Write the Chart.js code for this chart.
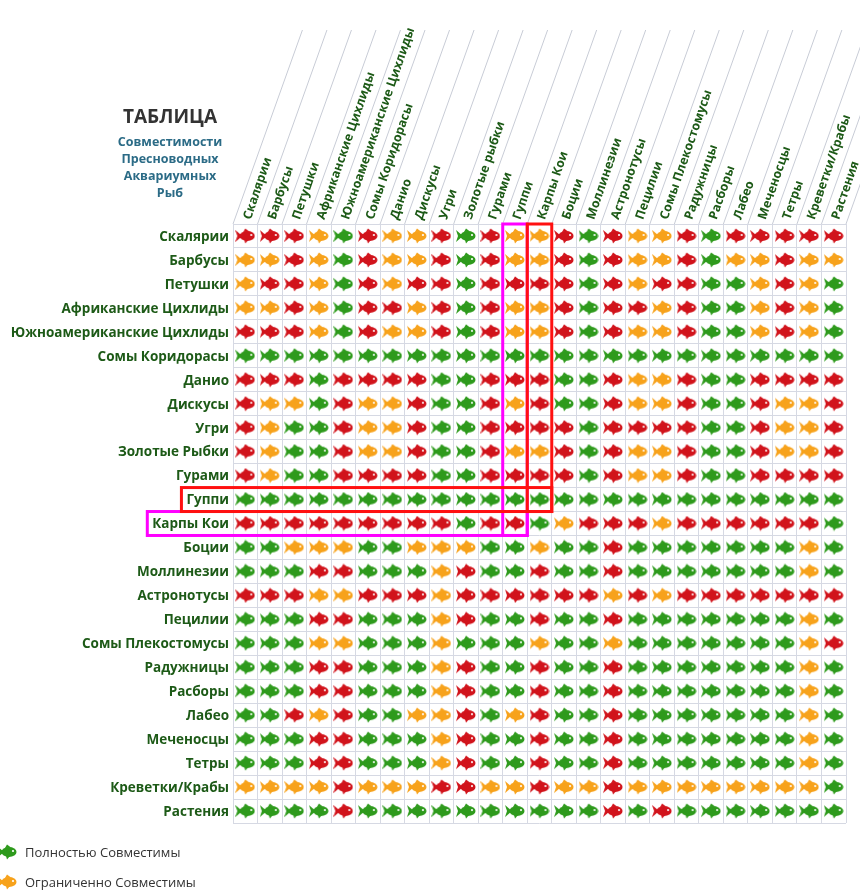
<!DOCTYPE html>
<html>
<head>
<meta charset="utf-8">
<script src="https://cdn.jsdelivr.net/npm/chart.js@4.4.1/dist/chart.umd.min.js"></script>
<style>
  html, body { margin: 0; padding: 0; background: #fff; }
  #wrap { width: 860px; height: 896px; position: relative; }
</style>
</head>
<body>
<div id="wrap"><canvas id="compatChart" width="860" height="896"></canvas></div>
<script>
// species (same order for rows and columns)
const species = ['Скалярии', 'Барбусы', 'Петушки', 'Африканские Цихлиды', 'Южноамериканские Цихлиды',
    'Сомы Коридорасы', 'Данио', 'Дискусы', 'Угри', 'Золотые Рыбки', 'Гурами', 'Гуппи', 'Карпы Кои',
    'Боции', 'Моллинезии', 'Астронотусы', 'Пецилии', 'Сомы Плекостомусы', 'Радужницы', 'Расборы',
    'Лабео', 'Меченосцы', 'Тетры', 'Креветки/Крабы', 'Растения'];
const columnLabels = ['Скалярии', 'Барбусы', 'Петушки', 'Африканские Цихлиды', 'Южноамериканские Цихлиды',
    'Сомы Коридорасы', 'Данио', 'Дискусы', 'Угри', 'Золотые рыбки', 'Гурами', 'Гуппи', 'Карпы Кои',
    'Боции', 'Моллинезии', 'Астронотусы', 'Пецилии', 'Сомы Плекостомусы', 'Радужницы', 'Расборы',
    'Лабео', 'Меченосцы', 'Тетры', 'Креветки/Крабы', 'Растения'];

// G = fully compatible, O = limited, R = incompatible
const matrix = [
    'RRROGROORGROORGROOGRRRRRR'.replace(/^(.{13})ROOGRRRRRR$/, '$1GROORGRRRRR'),
    'OOROGROORGROORGROORGOORLL',
];
const rows = [
    'RRROGROORGROO' + 'RGROORGRRRRR',
    'OOROGROORGROO' + 'RGROORGOOROO',
    'ORROGRORRGRRR' + 'RGRORRGGOROG',
    'OOROGRRORGROO' + 'RGRRORGGOROG',
    'RRROGROORGROO' + 'RGROORGGOROG',
    'GGGGGGGGGGGGG' + 'GGGGGGGGGGGG',
    'RRRGRRRRGGRRR' + 'GGROORGGRRRR',
    'ROOGROORGGROR' + 'GGROORGGROOR',
    'ROGGROORGGRRR' + 'RGRRRRGGROOR',
    'ROGGROORGGROO' + 'RGROORGGROOR',
    'ROGGRRRRGGRRR' + 'RGROORGGRRRR',
    'GGGGGGGGGGGGG' + 'GGGGGGGGGGGG',
    'RRRRRRRRRGRRG' + 'ORRRORRRRRRG',
    'GGOOOGGOOOGGO' + 'GGRGGGGGGGOG',
    'GGGRRGGGORGGR' + 'GGRGGGGGGGOG',
    'RRROORRRORRRR' + 'RRORORRRRRRR',
    'GGGRRGGGORGGR' + 'GGRGGGGGGGOG',
    'GGGOOGGGOGGGO' + 'GGOGGGGGGGOR',
    'GGGRRGGGORGGR' + 'GGRGGGGGGGOG',
    'GGGRRGGGORGGR' + 'GGRGGGGGGGOG',
    'GGROROGOORGOR'.replace('GGROROGOORGOR', 'GGRORGGOORGOR') + 'GGRGGGGGGGOG',
    'GGGRRGGGORGGR' + 'GGRGGGGGGGOG',
    'GGGRRGGGORGGR' + 'GGRGGGGGGGOG',
    'OOOOROOORROOR' + 'OOROOOOOOOOG',
    'GGGGRGGGGGGGG' + 'GGRGRGGGGGGG'
];
const legendItems = [['G', 'Полностью Совместимы'], ['O', 'Ограниченно Совместимы']];

const fishColors = { G: '#2e9a1c', O: '#f7a21b', R: '#d1131b' };

function makeFish(color) {
    const c = document.createElement('canvas');
    c.width = 20; c.height = 16;
    const g = c.getContext('2d');
    g.fillStyle = color;
    // tail
    g.beginPath();
    g.moveTo(0, 2); g.lineTo(7, 8); g.lineTo(0, 14); g.lineTo(2, 8); g.closePath(); g.fill();
    // dorsal + belly fins
    g.beginPath();
    g.moveTo(8, 4); g.lineTo(10, 0.5); g.lineTo(14, 3.5); g.closePath(); g.fill();
    g.beginPath();
    g.moveTo(9, 12); g.lineTo(10, 15.5); g.lineTo(13, 12); g.closePath(); g.fill();
    // body
    g.beginPath();
    g.ellipse(12, 8, 7.5, 5, 0, 0, Math.PI * 2); g.fill();
    // eye
    g.fillStyle = '#fff';
    g.beginPath(); g.arc(16, 7, 1.1, 0, Math.PI * 2); g.fill();
    return c;
}
const fishImages = { G: makeFish(fishColors.G), O: makeFish(fishColors.O), R: makeFish(fishColors.R) };

const points = [];
rows.forEach((row, r) => {
    row.split('').forEach((v, c) => points.push({ x: c, y: r, v: v }));
});

const FONT = '"Open Sans", "DejaVu Sans", sans-serif';
const LABEL_COLOR = '#1d5a17';

const decorPlugin = {
    id: 'decor',
    afterDraw(chart) {
        const ctx = chart.ctx;
        const xs = chart.scales.x, ys = chart.scales.y;
        const top = ys.getPixelForValue(-0.5);
        ctx.save();

        // title
        ctx.textAlign = 'center';
        ctx.textBaseline = 'middle';
        ctx.fillStyle = '#333';
        ctx.font = 'bold 19px ' + FONT;
        ctx.fillText('ТАБЛИЦА', 170, 118);
        ctx.fillStyle = '#2b6b86';
        ctx.font = 'bold 12.5px ' + FONT;
        ['Совместимости', 'Пресноводных', 'Аквариумных', 'Рыб'].forEach((t, i) => {
            ctx.fillText(t, 170, 142 + i * 17);
        });

        // slanted column separators and headers
        const ang = -71 * Math.PI / 180;
        ctx.strokeStyle = '#c8ccd6';
        ctx.lineWidth = 1;
        for (let i = 0; i <= species.length; i++) {
            const x0 = xs.getPixelForValue(i - 0.5);
            ctx.beginPath();
            ctx.moveTo(x0, top);
            ctx.lineTo(x0 + 190 / Math.tan(71 * Math.PI / 180) + 4, top - 194);
            ctx.stroke();
        }
        ctx.fillStyle = LABEL_COLOR;
        ctx.font = 'bold 12.5px ' + FONT;
        ctx.textAlign = 'left';
        columnLabels.forEach((t, i) => {
            const cx = xs.getPixelForValue(i);
            ctx.save();
            ctx.translate(cx + 2, top - 5);
            ctx.rotate(ang);
            ctx.fillText(t, 0, 0);
            ctx.restore();
        });

        // row labels
        ctx.textAlign = 'right';
        ctx.font = 'bold 13.5px ' + FONT;
        const labelLeft = {};
        species.forEach((t, i) => {
            const y = ys.getPixelForValue(i);
            ctx.fillText(t, 229, y + 1);
            labelLeft[i] = 229 - ctx.measureText(t).width - 5;
        });

        // highlight boxes
        ctx.lineWidth = 3;
        const px = v => xs.getPixelForValue(v), py = v => ys.getPixelForValue(v);
        ctx.strokeStyle = '#ff00ff';
        ctx.strokeRect(px(10.5), py(-0.5), px(11.5) - px(10.5), py(12.5) - py(-0.5));
        ctx.strokeRect(labelLeft[12], py(11.5), px(11.5) - labelLeft[12], py(12.5) - py(11.5));
        ctx.strokeStyle = '#ff1010';
        ctx.strokeRect(px(11.5), py(-0.5), px(12.5) - px(11.5), py(11.5) - py(-0.5));
        ctx.strokeRect(labelLeft[11], py(10.5), px(12.5) - labelLeft[11], py(11.5) - py(10.5));

        // legend
        ctx.textAlign = 'left';
        ctx.fillStyle = '#333';
        ctx.font = '13px ' + FONT;
        legendItems.forEach(([k, t], i) => {
            const y = 852 + i * 30;
            ctx.drawImage(fishImages[k], -3, y - 8);
            ctx.fillText(t, 25, y + 1);
        });
        ctx.restore();
    }
};

const halfTicks = axis => {
    axis.ticks = [];
    for (let i = -0.5; i <= 24.5; i += 1) axis.ticks.push({ value: i });
};

new Chart(document.getElementById('compatChart').getContext('2d'), {
    type: 'scatter',
    data: {
        datasets: [{
            data: points,
            pointStyle: ctx => fishImages[ctx.raw ? ctx.raw.v : 'G'],
            pointRadius: 8,
            pointHoverRadius: 8
        }]
    },
    options: {
        responsive: false,
        animation: false,
        events: [],
        layout: { padding: { left: 233, right: 14, top: 224, bottom: 73 } },
        plugins: { legend: { display: false }, tooltip: { enabled: false } },
        scales: {
            x: {
                type: 'linear', min: -0.5, max: 24.5,
                afterBuildTicks: halfTicks,
                ticks: { display: false },
                border: { display: false },
                grid: { color: '#d6d9e3', drawTicks: false }
            },
            y: {
                type: 'linear', min: -0.5, max: 24.5, reverse: true,
                afterBuildTicks: halfTicks,
                ticks: { display: false },
                border: { display: false },
                grid: { color: '#d6d9e3', drawTicks: false }
            }
        }
    },
    plugins: [decorPlugin]
});
</script>
</body>
</html>
